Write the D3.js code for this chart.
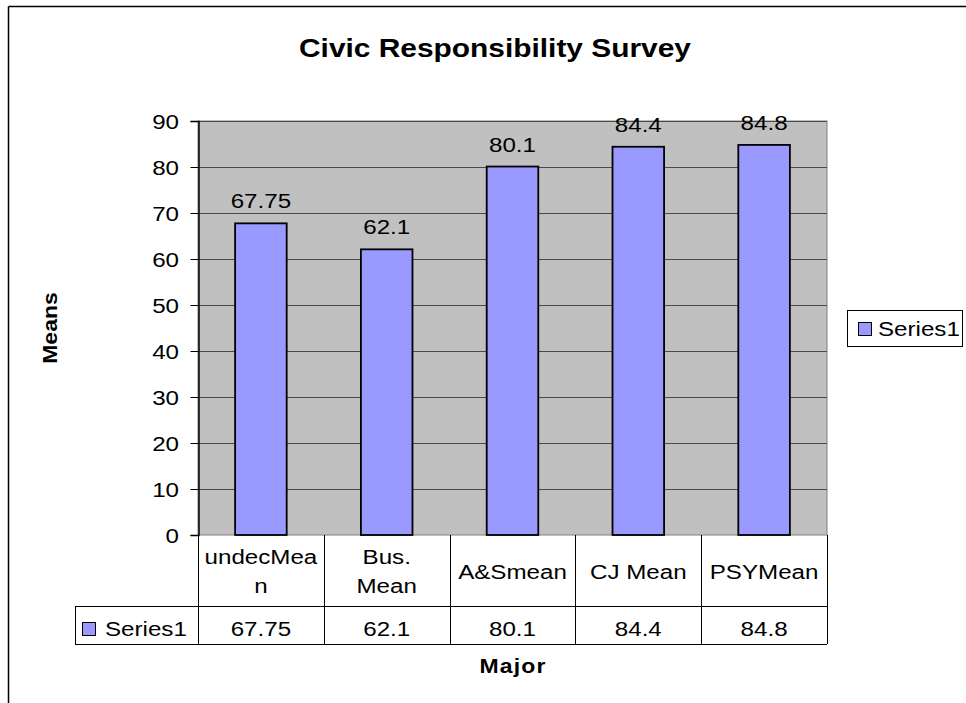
<!DOCTYPE html>
<html>
<head>
<meta charset="utf-8">
<script src="https://cdn.jsdelivr.net/npm/d3@7/dist/d3.min.js"></script>
<style>
  html, body { margin: 0; padding: 0; background: #fff; }
  svg { display: block; font-family: "Liberation Sans", Arial, sans-serif; }
</style>
</head>
<body>
<svg id="chart" width="966" height="703"></svg>
<script>
// Survey means by major
const categories = ["undecMean", "Bus. Mean", "A&Smean", "CJ Mean", "PSYMean"];
const categoryLines = [["undecMea", "n"], ["Bus.", "Mean"], ["A&Smean"], ["CJ Mean"], ["PSYMean"]];
const seriesName = "Series1";
const values = [67.75, 62.1, 80.1, 84.4, 84.8];
const valueLabels = ["67.75", "62.1", "80.1", "84.4", "84.8"];
const yTicks = [0, 10, 20, 30, 40, 50, 60, 70, 80, 90];

const svg = d3.select("#chart");
const barFill = "#9999FF";
const stretch = 1.15; // wide horizontal text rendering
const plot = { left: 198, right: 827, top: 121, bottom: 535 };

// text helper: places a horizontally widened label with its anchor at (x, y)
function label(parent, x, y, str, size, opts = {}) {
  return parent.append("text")
    .attr("transform", `translate(${x},${y}) scale(${stretch},1)` + (opts.rotate ? ` rotate(${opts.rotate})` : ""))
    .attr("text-anchor", opts.anchor || "middle")
    .attr("font-size", size)
    .attr("font-weight", opts.bold ? "bold" : "normal")
    .attr("fill", "#000")
    .text(str);
}

// outer chart frame (top and left edges)
svg.append("line").attr("x1", 8.5).attr("x2", 966).attr("y1", 6.5).attr("y2", 6.5)
  .attr("stroke", "#000").attr("stroke-width", 1.5);
svg.append("line").attr("x1", 8.5).attr("x2", 8.5).attr("y1", 6.5).attr("y2", 703)
  .attr("stroke", "#000").attr("stroke-width", 1.5);

const x = d3.scaleBand().domain(categories).range([plot.left, plot.right]).paddingInner(0.59).paddingOuter(0.295);
const xCell = d3.scaleBand().domain(categories).range([plot.left, plot.right]);
const y = d3.scaleLinear().domain([0, 90]).range([plot.bottom, plot.top]);

// plot background
svg.append("rect").attr("x", plot.left).attr("y", plot.top)
  .attr("width", plot.right - plot.left).attr("height", plot.bottom - plot.top)
  .attr("fill", "#C0C0C0").attr("stroke", "#808080");

// gridlines
svg.append("g").selectAll("line").data(yTicks.filter(d => d > 0)).join("line")
  .attr("x1", plot.left).attr("x2", plot.right)
  .attr("y1", d => Math.round(y(d)) + 0.5).attr("y2", d => Math.round(y(d)) + 0.5)
  .attr("stroke", "#4a4a4a").attr("stroke-width", 1.2);

// bars
svg.append("g").selectAll("rect").data(values).join("rect")
  .attr("x", (d, i) => x(categories[i]))
  .attr("y", d => y(d))
  .attr("width", x.bandwidth())
  .attr("height", d => y(0) - y(d))
  .attr("fill", barFill).attr("stroke", "#000").attr("stroke-width", 1.8);

// value labels above bars
const vl = svg.append("g");
values.forEach((d, i) => label(vl, x(categories[i]) + x.bandwidth() / 2, y(d) - 15, valueLabels[i], 21));

// y axis
const yAxis = d3.axisLeft(y).tickValues(yTicks).tickSize(8).tickFormat("");
const gy = svg.append("g").attr("transform", `translate(${plot.left + 0.5},0)`).call(yAxis);
gy.select(".domain").attr("stroke", "#000").attr("stroke-width", 1.5);
gy.selectAll(".tick line").attr("stroke", "#000");
const yl = svg.append("g");
yTicks.forEach(t => label(yl, 179, y(t) + 7.5, String(t), 21, { anchor: "end" }));

// data table
const rowTop = plot.bottom, rowMid = 606, rowBot = 644, tableLeft = 75;
const tbl = svg.append("g").attr("stroke", "#000").attr("stroke-width", 1);
tbl.append("line").attr("x1", tableLeft).attr("x2", plot.right).attr("y1", rowMid + 0.5).attr("y2", rowMid + 0.5);
tbl.append("line").attr("x1", tableLeft).attr("x2", plot.right).attr("y1", rowBot + 0.5).attr("y2", rowBot + 0.5);
tbl.append("line").attr("x1", tableLeft + 0.5).attr("x2", tableLeft + 0.5).attr("y1", rowMid).attr("y2", rowBot);
const cellEdges = categories.map(c => xCell(c)).concat([plot.right]);
tbl.selectAll(".v").data(cellEdges).join("line")
  .attr("x1", d => Math.round(d) + 0.5).attr("x2", d => Math.round(d) + 0.5)
  .attr("y1", rowTop).attr("y2", rowBot);

// category labels in the table header row
const cg = svg.append("g");
categoryLines.forEach((lines, i) => {
  const cx = xCell(categories[i]) + xCell.bandwidth() / 2;
  const lh = 29;
  const base = 578.5 - (lines.length - 1) * lh / 2;
  lines.forEach((ln, k) => label(cg, cx, base + k * lh, ln, 21));
});

// value row
const vr = svg.append("g");
values.forEach((d, i) => label(vr, xCell(categories[i]) + xCell.bandwidth() / 2, 636, valueLabels[i], 21));

// series key in the table
svg.append("rect").attr("x", 82.5).attr("y", 622.5).attr("width", 13).attr("height", 13)
  .attr("fill", barFill).attr("stroke", "#000");
label(svg, 105, 636, seriesName, 21, { anchor: "start" });

// legend
svg.append("rect").attr("x", 847.5).attr("y", 310.5).attr("width", 115).attr("height", 36)
  .attr("fill", "#fff").attr("stroke", "#000");
svg.append("rect").attr("x", 858.5).attr("y", 322.5).attr("width", 13).attr("height", 13)
  .attr("fill", barFill).attr("stroke", "#000");
label(svg, 878, 336, seriesName, 21, { anchor: "start" });

// titles
label(svg, 495, 57, "Civic Responsibility Survey", 26, { bold: true });
svg.append("text").attr("transform", "translate(57,328) rotate(-90) scale(1.15,1)")
  .attr("text-anchor", "middle").attr("font-size", 20).attr("font-weight", "bold")
  .attr("fill", "#000").text("Means");
label(svg, 513, 673, "Major", 20, { bold: true }).attr("letter-spacing", 1);
</script>
</body>
</html>
